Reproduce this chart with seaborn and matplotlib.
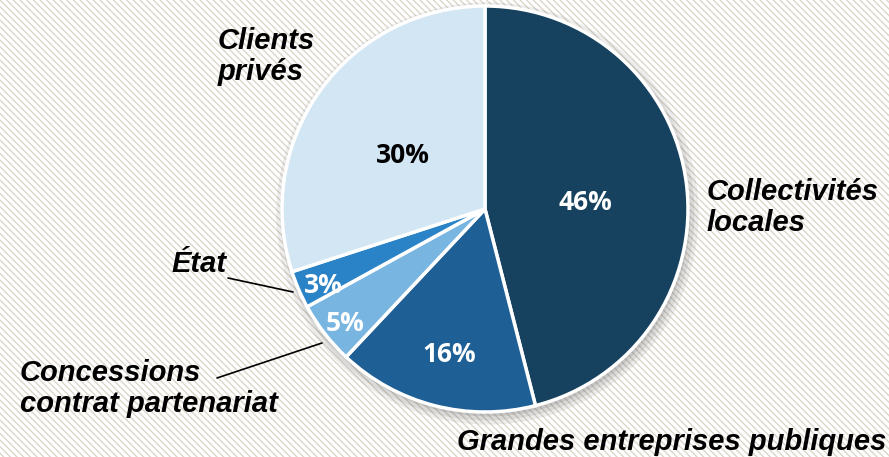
import matplotlib
matplotlib.use('Agg')
import matplotlib.pyplot as plt
from matplotlib.patches import Rectangle, Circle
import numpy as np
import seaborn as sns

# data, clockwise from 12 o'clock
segments = ['Collectivités\nlocales', 'Grandes entreprises publiques',
            'Concessions\ncontrat partenariat', 'État', 'Clients\nprivés']
shares = [46, 16, 5, 3, 30]
colors = ['#17425f', '#1e5f95', '#79b5e1', '#2a83c6', '#d3e6f4']
pct_colors = ['white', 'white', 'white', 'white', 'black']
pct_dist = [0.5, 0.71, 0.87, 0.87, 0.5]

# label anchors in pixels (left, baseline of last line) and leader lines
label_pos = [(707, 231), (457, 450), (20, 412), (171, 272), (218, 80)]
leaders = {2: [(217, 378), (322, 343)], 3: [(228, 278), (293, 292)]}

W, H = 889, 457
CX, CY, R = 485, 209, 203

sns.set_theme(style='white')
plt.rcParams['hatch.linewidth'] = 1.0
plt.rcParams['hatch.color'] = '#dcd6ca'

fig = plt.figure(figsize=(W / 100, H / 100), dpi=100)
fig.patch.set_facecolor('white')

ax = fig.add_axes([0, 0, 1, 1])
ax.set_facecolor('none')
ax.add_patch(Rectangle((0, 0), 1, 1, transform=ax.transAxes,
                       facecolor='white', edgecolor='#dcd6ca',
                       hatch='\\' * 5, linewidth=0, zorder=-5))


def to_data(px, py):
    return (px - CX) / R, (CY - py) / R


# soft shadow
for k, a in enumerate([0.10, 0.12, 0.15]):
    ax.add_patch(Circle((0.012, -0.022), 1.0 + 0.02 * (2 - k), color='#555555',
                        alpha=a, linewidth=0, zorder=-1))

wedges, texts, autotexts = ax.pie(
    shares, colors=colors, startangle=90, counterclock=False, radius=1,
    autopct='%d%%', pctdistance=0.5,
    wedgeprops=dict(edgecolor='white', linewidth=2.5),
    textprops=dict(fontfamily='Open Sans', fontweight='bold', fontstyle='normal',
                   fontsize=19))

for i, t in enumerate(autotexts):
    w = wedges[i]
    ang = np.deg2rad((w.theta1 + w.theta2) / 2)
    t.set_position((pct_dist[i] * np.cos(ang),
                    pct_dist[i] * np.sin(ang) - 0.03))
    t.set_color(pct_colors[i])

for i, lab in enumerate(segments):
    x, y = to_data(*label_pos[i])
    ax.text(x, y, lab, ha='left', va='baseline', fontsize=21,
            fontfamily='Liberation Sans', fontweight='bold', fontstyle='italic',
            color='black', linespacing=1.15, multialignment='left')
    if i in leaders:
        (x0, y0), (x1, y1) = leaders[i]
        a0 = to_data(x0, y0)
        a1 = to_data(x1, y1)
        ax.plot([a0[0], a1[0]], [a0[1], a1[1]], color='black', linewidth=1.2)

ax.set_xlim(-CX / R, (W - CX) / R)
ax.set_ylim(-(H - CY) / R, CY / R)
ax.set_aspect('auto')
ax.axis('off')

fig.savefig('out.png', dpi=100)
